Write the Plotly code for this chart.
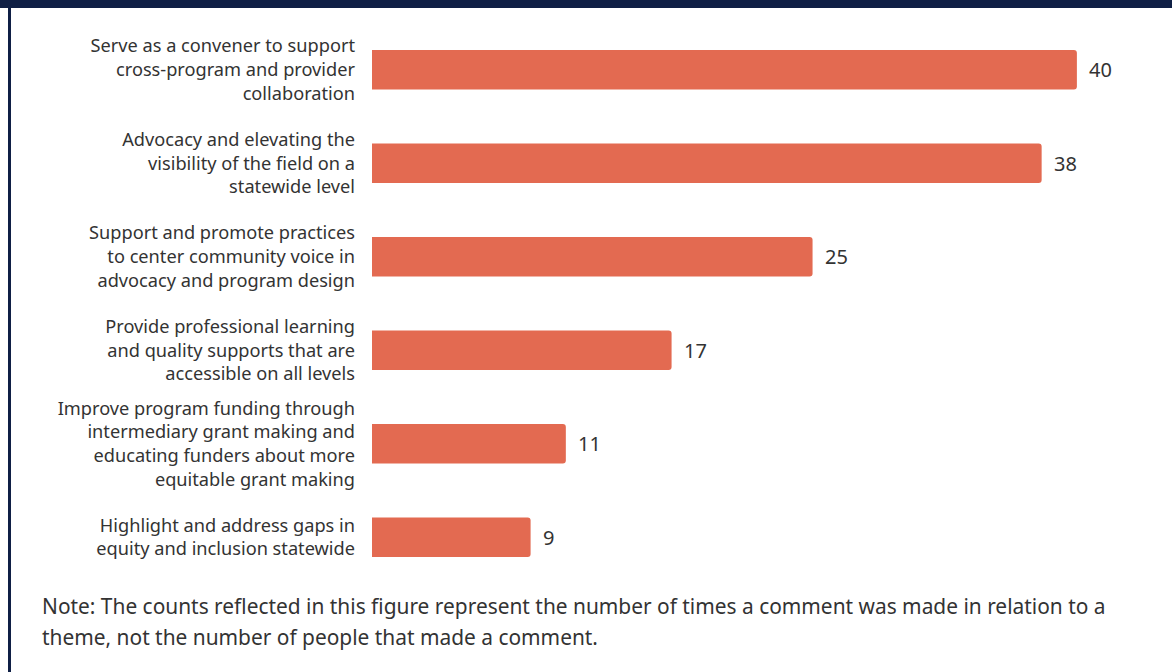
import plotly.graph_objects as go

categories = [
    "Serve as a convener to support<br>cross-program and provider<br>collaboration",
    "Advocacy and elevating the<br>visibility of the field on a<br>statewide level",
    "Support and promote practices<br>to center community voice in<br>advocacy and program design",
    "Provide professional learning<br>and quality supports that are<br>accessible on all levels",
    "Improve program funding through<br>intermediary grant making and<br>educating funders about more<br>equitable grant making",
    "Highlight and address gaps in<br>equity and inclusion statewide",
]
values = [40, 38, 25, 17, 11, 9]
note_lines = [
    "Note: The counts reflected in this figure represent the number of times a comment was made in relation to a",
    "theme, not the number of people that made a comment.",
]

W, H = 1172, 672
L, R, T, B = 372, 7, 23, 88
pw, ph = W - L - R, H - T - B

def px_x(p):
    return (p - L) / pw

def px_y(p):
    return (H - B - p) / ph

FONT = "Noto Sans"
TXT = "#333333"
NAVY = "#0F1F45"

fig = go.Figure(go.Bar(
    x=values, y=categories, orientation="h",
    marker=dict(color="#E36A51", line=dict(width=0)),
    textposition="none",
    cliponaxis=False,
))

for v, c in zip(values, categories):
    fig.add_annotation(
        x=v, y=c, xref="x", yref="y", text=str(v), showarrow=False,
        xanchor="left", yanchor="middle", xshift=10,
        font=dict(family=FONT, size=20, color=TXT),
    )

fig.update_layout(
    width=W, height=H,
    margin=dict(l=L, r=R, t=T, b=B),
    paper_bgcolor="white", plot_bgcolor="white",
    bargap=0.58, barcornerradius=3,
    showlegend=False,
    font=dict(family=FONT, color=TXT),
    xaxis=dict(range=[0, 45], visible=False, fixedrange=True),
    yaxis=dict(autorange="reversed", showgrid=False, zeroline=False, showline=False,
               ticks="", ticklabelstandoff=16,
               tickfont=dict(family=FONT, size=18.2, color=TXT)),
    shapes=[
        dict(type="rect", xref="paper", yref="paper",
             x0=px_x(0), x1=px_x(W), y0=px_y(8), y1=px_y(0),
             fillcolor=NAVY, line=dict(width=0), layer="above"),
        dict(type="rect", xref="paper", yref="paper",
             x0=px_x(8), x1=px_x(11), y0=px_y(H), y1=px_y(8),
             fillcolor=NAVY, line=dict(width=0), layer="above"),
    ],
)

for i, line in enumerate(note_lines):
    fig.add_annotation(
        text=line, xref="paper", yref="paper",
        x=px_x(40), y=px_y(606 + 31 * i), xanchor="left", yanchor="middle",
        showarrow=False, font=dict(family=FONT, size=20.9, color=TXT),
    )

fig.write_html("out.html")
